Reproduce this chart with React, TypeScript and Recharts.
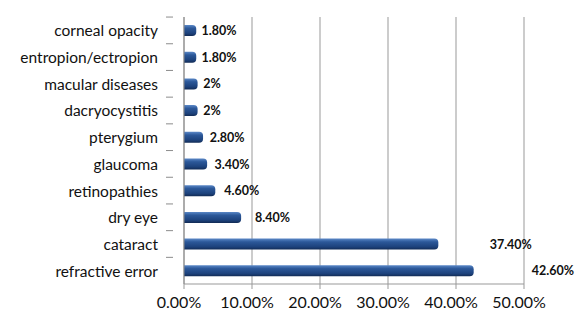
import React from 'react';
import { BarChart, Bar, XAxis, YAxis, CartesianGrid, LabelList } from 'recharts';

const categories = [
  'corneal opacity',
  'entropion/ectropion',
  'macular diseases',
  'dacryocystitis',
  'pterygium',
  'glaucoma',
  'retinopathies',
  'dry eye',
  'cataract',
  'refractive error',
];
const percents = [1.8, 1.8, 2, 2, 2.8, 3.4, 4.6, 8.4, 37.4, 42.6];
const xTicks = [0, 10, 20, 30, 40, 50];

const data = categories.map((name, i) => ({ name, value: percents[i] }));

const fmt = (v: number) => (Number.isInteger(v) ? `${v}%` : `${v.toFixed(2)}%`);

const FONT = 'Lato, "Open Sans", sans-serif';

function CategoryTick(props: any) {
  const { x, y, payload } = props;
  return (
    <g>
      <line x1={x - 10} x2={x - 3} y1={y - 13.3} y2={y - 13.3} stroke="#8c8c8c" />
      <text x={x - 18} y={y} textAnchor="end" dominantBaseline="central" fontSize={15.5} fill="#111" fontFamily={FONT}>
        {payload.value}
      </text>
    </g>
  );
}

function ValueTick(props: any) {
  const { x, y, payload } = props;
  return (
    <text x={x - 5} y={y + 10} textAnchor="middle" dominantBaseline="central" fontSize={16} fill="#111" fontFamily={FONT}>
      {`${payload.value.toFixed(2)}%`}
    </text>
  );
}

function BarLabel(props: any) {
  const { x, y, width, height, value } = props;
  return (
    <text
      x={x + width * 1.19 + 3}
      y={y + height / 2}
      dominantBaseline="central"
      fontSize={12.5}
      fontWeight="bold"
      fill="#111"
      fontFamily={FONT}
    >
      {fmt(value)}
    </text>
  );
}

export default function App() {
  return (
    <div style={{ position: 'absolute', left: 0, top: 0, background: '#fff' }}>
      <BarChart
        width={575}
        height={315}
        data={data}
        layout="vertical"
        margin={{ top: 17, right: 51, bottom: 0, left: 0 }}
        barCategoryGap={0}
      >
        <defs>
          <linearGradient id="cyl" x1="0" y1="0" x2="0" y2="1">
            <stop offset="0%" stopColor="#5b88c7" />
            <stop offset="30%" stopColor="#2c5899" />
            <stop offset="75%" stopColor="#1d427c" />
            <stop offset="100%" stopColor="#122b55" />
          </linearGradient>
        </defs>
        <CartesianGrid horizontal={false} stroke="#999" />
        <XAxis
          type="number"
          domain={[0, 50]}
          ticks={xTicks}
          height={31}
          stroke="#999"
          tickSize={5}
          tick={<ValueTick />}
          interval={0}
        />
        <YAxis
          type="category"
          dataKey="name"
          width={184}
          stroke="#8c8c8c"
          tickLine={false}
          tick={<CategoryTick />}
          interval={0}
        />
        <Bar dataKey="value" fill="url(#cyl)" barSize={11} radius={[0, 4, 4, 0]} isAnimationActive={false}>
          <LabelList dataKey="value" content={<BarLabel />} />
        </Bar>
      </BarChart>
    </div>
  );
}
